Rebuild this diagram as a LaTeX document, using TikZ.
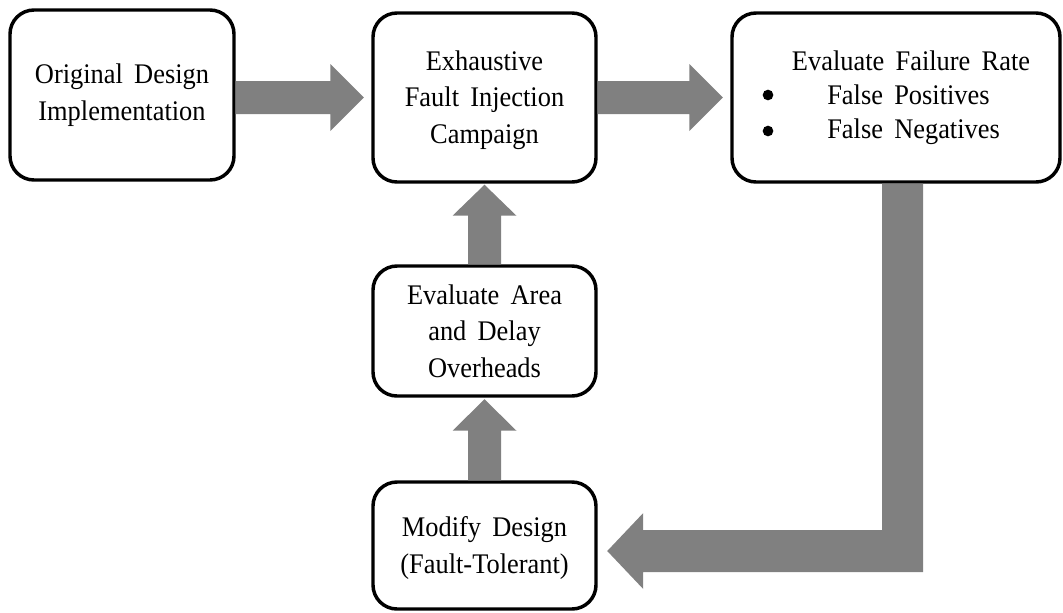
\documentclass[tikz,border=0pt]{standalone}
\usepackage{fontspec}
\setmainfont{Liberation Serif}[WordSpace=1.7, FakeStretch=0.93]
\usetikzlibrary{calc}
\definecolor{arrowgray}{RGB}{128,128,128}
\begin{document}
\begin{tikzpicture}[x=0.75pt,y=-0.75pt,
  stepbox/.style={draw=black, line width=2.6pt, rounded corners=18pt, fill=white,
    align=center, inner sep=0pt, font=\fontsize{21.3pt}{27.5pt}\selectfont},
  txt/.style={inner sep=0pt, font=\fontsize{21.3pt}{24pt}\selectfont},
  dot/.style={circle, fill=black, inner sep=0pt, minimum size=8pt},
  flow/.style={fill=arrowgray, draw=none}]
\useasboundingbox (0,0) rectangle (1063,612);

% process boxes
\node[stepbox, minimum width=168pt, minimum height=127.5pt] (b1) at (122,95)
  {Original Design\\Implementation};
\node[stepbox, minimum width=167.25pt, minimum height=126.75pt] (b2) at (484.5,97.5)
  {\rule{0pt}{18.5pt}Exhaustive\\Fault Injection\\Campaign};
\node[stepbox, minimum width=246pt, minimum height=126.75pt] (b3) at (896,97.5) {};
\node[stepbox, minimum width=167.25pt, minimum height=97.5pt] (b4) at (484.5,331)
  {Evaluate Area\\and Delay\\Overheads};
\node[stepbox, minimum width=167.25pt, minimum height=95.25pt] (b5) at (484.5,545.5)
  {\rule{0pt}{19.2pt}Modify Design\\(Fault-Tolerant)};

% contents of the failure-rate box
\node[txt, anchor=base] (t3a) at (911,70) {Evaluate Failure Rate};
\node[txt, anchor=base west] (t3b) at (827,104) {False Positives};
\node[txt, anchor=base west] (t3c) at (827,138) {False Negatives};
\node[dot] (d3b) at (768,95) {};
\node[dot] (d3c) at (768,131) {};

% horizontal block arrows
\coordinate (s1) at (b1.east |- b2.west);
\fill[flow] ($(s1)+(0,-16.5)$) -- ($(b2.west)+(-41,-16.5)$) -- ($(b2.west)+(-41,-33.5)$)
  -- ($(b2.west)+(-7.5,0)$) -- ($(b2.west)+(-41,33.5)$) -- ($(b2.west)+(-41,16.5)$)
  -- ($(s1)+(0,16.5)$) -- cycle;
\coordinate (s2) at (b2.east |- b3.west);
\fill[flow] ($(s2)+(0,-16.5)$) -- ($(b3.west)+(-41,-16.5)$) -- ($(b3.west)+(-41,-33.5)$)
  -- ($(b3.west)+(-7.5,0)$) -- ($(b3.west)+(-41,33.5)$) -- ($(b3.west)+(-41,16.5)$)
  -- ($(s2)+(0,16.5)$) -- cycle;

% vertical block arrows
\fill[flow] ($(b4.north)+(-16.5,0)$) -- ($(b2.south)+(-16.5,32)$) -- ($(b2.south)+(-32,32)$)
  -- ($(b2.south)+(0,1)$) -- ($(b2.south)+(32,32)$) -- ($(b2.south)+(16.5,32)$)
  -- ($(b4.north)+(16.5,0)$) -- cycle;
\fill[flow] ($(b5.north)+(-16.5,0)$) -- ($(b4.south)+(-16.5,33)$) -- ($(b4.south)+(-32,33)$)
  -- ($(b4.south)+(0,1.5)$) -- ($(b4.south)+(32,33)$) -- ($(b4.south)+(16.5,33)$)
  -- ($(b5.north)+(16.5,0)$) -- cycle;

% elbow arrow back to the design box
\coordinate (t5) at ($(b3.south)+(6.5,0)$);
\coordinate (h5) at ($(b5.east)+(0,5.5)$);
\fill[flow] ($(t5)+(-20.5,0)$) -- ($(t5 |- h5)+(-20.5,-21)$) -- ($(h5)+(45.5,-21)$)
  -- ($(h5)+(45.5,-38)$) -- ($(h5)+(9.5,0)$) -- ($(h5)+(45.5,38)$) -- ($(h5)+(45.5,21)$)
  -- ($(t5 |- h5)+(20.5,21)$) -- ($(t5)+(20.5,0)$) -- cycle;
\end{tikzpicture}
\end{document}
